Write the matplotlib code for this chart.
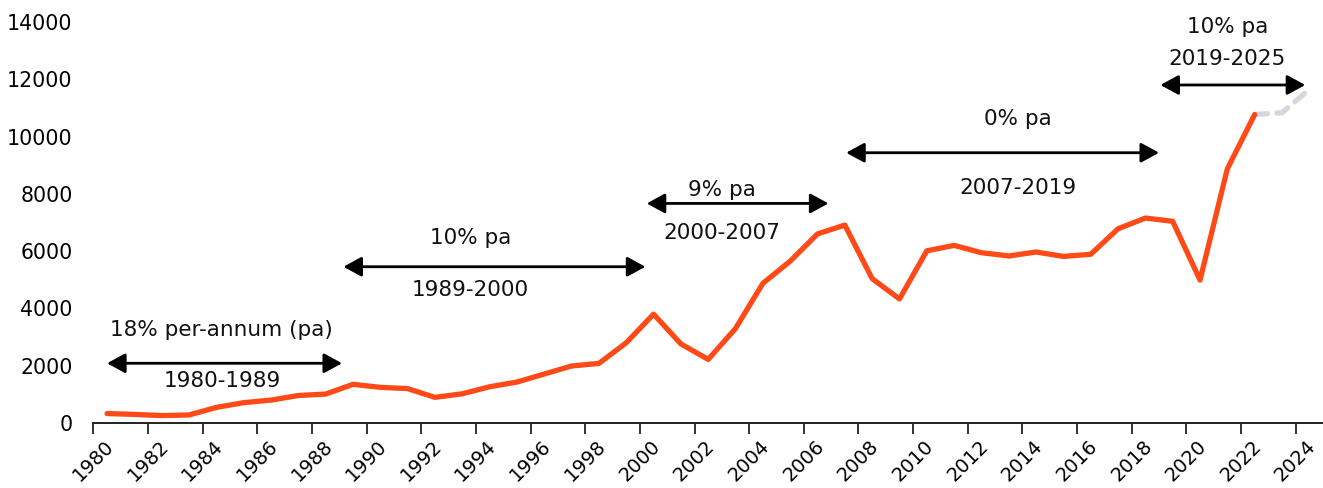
import matplotlib
matplotlib.use("Agg")
import matplotlib.pyplot as plt

# yearly values, plotted in the middle of each year's category
years = list(range(1980, 2023))
values = [330, 300, 260, 280, 545, 710, 800, 960, 1010, 1350,
          1245, 1200, 895, 1020, 1265, 1430, 1710, 1990, 2080, 2800,
          3800, 2760, 2220, 3300, 4875, 5650, 6600, 6910, 5040, 4330,
          6010, 6200, 5945, 5830, 5970, 5815, 5890, 6780, 7155, 7040,
          4990, 8875, 10770]

# forecast tail (grey dashed)
fc_years = [2022, 2023, 2024]
fc_values = [10770, 10830, 11650]

# growth period annotations: (start, end, arrow level, rate label, period label)
periods = [
    (1980.5, 1989.1, 2085, "18% per-annum (pa)", "1980-1989", 1984.7, 3245, 1465),
    (1989.15, 2000.2, 5455, "10% pa", "1989-2000", 1993.8, 6455, 4640),
    (2000.25, 2006.9, 7665, "9% pa", "2000-2007", 2003.0, 8130, 6640),
    (2007.55, 2019.0, 9435, "0% pa", "2007-2019", 2013.85, 10600, 8190),
    (2019.05, 2024.35, 11800, "10% pa", "2019-2025", 2021.5, 13830, 12700),
]

ORANGE = "#ff4a17"
GREY = "#d6d6de"

fig = plt.figure(figsize=(13.23, 4.88), dpi=100)
ax = fig.add_axes([0.0706, 0.1332, 0.9294, 0.8218])

ax.plot([y + 0.5 for y in fc_years], fc_values, color=GREY, lw=3.8,
        ls=(0, (2.4, 1.8)), solid_capstyle="round", dash_capstyle="round")
ax.plot([y + 0.5 for y in years], values, color=ORANGE, lw=3.8,
        solid_capstyle="round", solid_joinstyle="round")

for x0, x1, lvl, rate, span, tx, ty1, ty2 in periods:
    ax.annotate("", xy=(x1, lvl), xytext=(x0, lvl),
                arrowprops=dict(arrowstyle="<|-|>,head_length=0.55,head_width=0.3",
                                mutation_scale=20, color="black", lw=2,
                                shrinkA=0, shrinkB=0))
    ax.text(tx, ty1, rate, ha="center", va="center", fontsize=15.5, color="#111111")
    ax.text(tx, ty2, span, ha="center", va="center", fontsize=15.5, color="#111111")

ax.set_xlim(1980, 2025)
ax.set_ylim(0, 14000)
ax.set_xticks(range(1980, 2025, 2))
ax.set_xticklabels([str(y) for y in range(1980, 2025, 2)], rotation=45, ha="center")
ax.set_yticks(range(0, 14001, 2000))

for s in ["top", "right", "left"]:
    ax.spines[s].set_visible(False)
ax.spines["bottom"].set_linewidth(1.4)
ax.spines["bottom"].set_color("#222222")
ax.tick_params(axis="x", length=8, width=1.3, color="#222222", labelsize=14, pad=2)
ax.tick_params(axis="y", length=0, labelsize=14.8, pad=15)

fig.savefig("out.png", dpi=100)
